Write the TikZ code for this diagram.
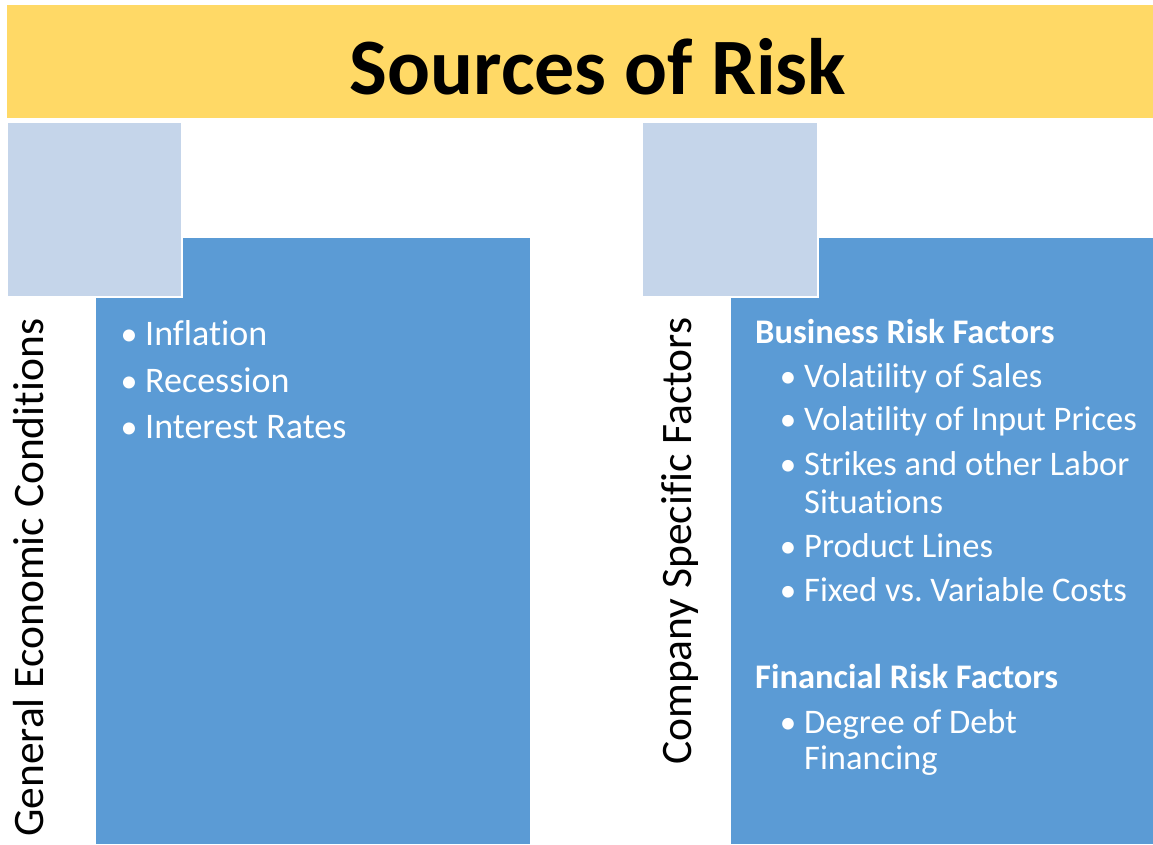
\documentclass[tikz,border=0pt]{standalone}
\usepackage{fontspec}
\setmainfont{Carlito}[Ligatures={NoCommon,NoContextual},RawFeature={-liga;-clig}]
\frenchspacing
\definecolor{bannercol}{HTML}{FFD966}
\definecolor{sqcol}{HTML}{C5D5EA}
\definecolor{panelcol}{HTML}{5B9BD5}
\tikzset{
  bannerbox/.style={fill=bannercol, inner sep=0, anchor=north west},
  panelbox/.style={fill=panelcol, inner sep=0, anchor=north west},
  sqbox/.style={fill=sqcol, draw=white, line width=2pt, inner sep=0, minimum height=175pt},
  titletxt/.style={font=\fontsize{80}{96}\selectfont\bfseries, anchor=base, inner sep=0},
  vlabel/.style={font=\fontsize{43.5}{52}\selectfont, rotate=90, anchor=base west, inner sep=0},
  ltxt/.style={font=\fontsize{36}{43}\selectfont, text=white, anchor=base west, inner sep=0},
  lbul/.style={font=\fontsize{34}{43}\selectfont, text=white, anchor=base, inner sep=0},
  rtxt/.style={font=\fontsize{34.5}{41}\selectfont, text=white, anchor=base west, inner sep=0},
  rhead/.style={font=\fontsize{34.5}{41}\selectfont\bfseries, text=white, anchor=base west, inner sep=0},
  rbul/.style={font=\fontsize{33}{41}\selectfont, text=white, anchor=base, inner sep=0},
}
\begin{document}
\begin{tikzpicture}[x=1pt,y=-1pt]
\useasboundingbox (0,0) rectangle (1153,844);
\fill[white] (0,0) rectangle (1153,844);
% banner
\node[bannerbox, minimum width=1146pt, minimum height=113pt] (banner) at (7,5) {};
\node[titletxt] (title) at (598,94) {Sources of Risk};
% panels
\node[panelbox, minimum width=434pt, minimum height=606pt] (lpanel) at (96,238) {};
\node[panelbox, minimum width=422pt, minimum height=606pt] (rpanel) at (731,238) {};
% squares
\node[sqbox, minimum width=175pt] (lsq) at (94.5,209.5) {};
\node[sqbox, minimum width=176pt] (rsq) at (730,209.5) {};
% vertical labels
\node[vlabel] (lvl) at (43,837) {General Economic Conditions};
\node[vlabel] (rvl) at (691,765) {Company Specific Factors};
% left bullets
\node[lbul] (lb1) at (129,345) {•};
\node[ltxt] (lt1) at (145,345) {Inflation};
\node[lbul] (lb2) at (129,392) {•};
\node[ltxt] (lt2) at (145,392) {Recession};
\node[lbul] (lb3) at (129,438) {•};
\node[ltxt] (lt3) at (145,438) {Interest Rates};
% right content
\node[rhead] (rh1) at (755,343) {Business Risk Factors};
\node[rbul] (rb1) at (788,387) {•};
\node[rtxt] (rt1) at (804,387) {Volatility of Sales};
\node[rbul] (rb2) at (788,430) {•};
\node[rtxt] (rt2) at (804,430) {Volatility of Input Prices};
\node[rbul] (rb3) at (788,475) {•};
\node[rtxt] (rt3) at (804,475) {Strikes and other Labor};
\node[rtxt] (rt3b) at (804,513) {Situations};
\node[rbul] (rb4) at (788,557) {•};
\node[rtxt] (rt4) at (804,557) {Product Lines};
\node[rbul] (rb5) at (788,601) {•};
\node[rtxt] (rt5) at (804,601) {Fixed vs. Variable Costs};
\node[rhead] (rh2) at (755,688) {Financial Risk Factors};
\node[rbul] (rb6) at (788,733) {•};
\node[rtxt] (rt6) at (804,733) {Degree of Debt};
\node[rtxt] (rt6b) at (804,769) {Financing};
\end{tikzpicture}
\end{document}
